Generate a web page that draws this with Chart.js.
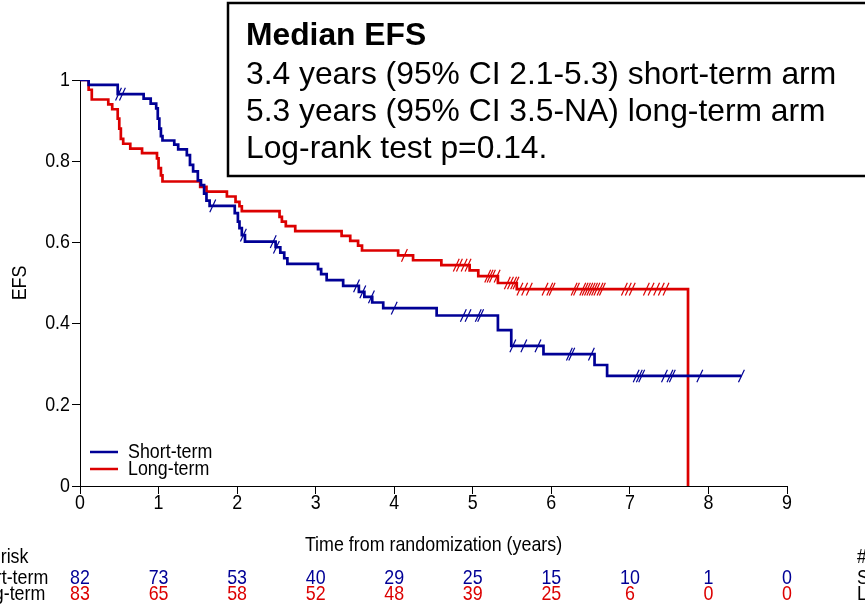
<!DOCTYPE html>
<html>
<head>
<meta charset="utf-8">
<script src="https://cdn.jsdelivr.net/npm/chart.js@4.4.1/dist/chart.umd.min.js"></script>
<style>
  html, body { margin: 0; padding: 0; background: #fff; }
  #wrap { position: relative; width: 865px; height: 606px; }
</style>
</head>
<body>
<div id="wrap"><canvas id="kmChart"></canvas></div>
<script>
// Kaplan-Meier steps: event times (years) and EFS after each event
const shortTimes = [0.11, 0.48, 0.81, 0.90, 0.97, 0.99, 1.01, 1.03, 1.05, 1.20, 1.25, 1.36, 1.40, 1.44, 1.50, 1.54, 1.58, 1.61, 1.65,
    1.97, 2.01, 2.03, 2.06, 2.10, 2.49, 2.55, 2.60, 2.64, 3.03, 3.07, 3.14, 3.35, 3.55, 3.62, 3.72, 3.86, 4.54, 5.32, 5.49, 5.90, 6.55, 6.71];
const shortSurv = [0.988, 0.965, 0.954, 0.942, 0.93, 0.905, 0.88, 0.862, 0.851, 0.841, 0.829, 0.815, 0.791, 0.775, 0.753, 0.741, 0.72, 0.703, 0.69,
    0.672, 0.651, 0.635, 0.618, 0.602, 0.588, 0.575, 0.561, 0.547, 0.534, 0.522, 0.507, 0.493, 0.478, 0.466, 0.452, 0.438, 0.42, 0.384, 0.345, 0.325, 0.298, 0.271];
const shortLastFollowUp = 8.42;
const shortCensored = [0.49, 0.54, 1.69, 2.08, 2.46, 2.50, 3.52, 3.60, 3.71, 4.00, 4.88, 4.94, 5.07, 5.10, 5.51, 5.65, 5.83,
    6.23, 6.26, 6.51, 7.08, 7.12, 7.15, 7.44, 7.51, 7.54, 7.89, 8.42];

const longTimes = [0.11, 0.15, 0.36, 0.41, 0.48, 0.50, 0.52, 0.55, 0.64, 0.79, 0.98, 1.00, 1.03, 1.05, 1.53, 1.61, 1.87, 1.98, 2.03, 2.06,
    2.54, 2.57, 2.62, 2.74, 3.33, 3.44, 3.54, 3.59, 4.05, 4.24, 4.60, 4.96, 5.07, 5.32, 5.56, 7.74];
const longSurv = [0.976, 0.952, 0.94, 0.928, 0.905, 0.88, 0.855, 0.843, 0.831, 0.82, 0.807, 0.783, 0.765, 0.75, 0.737, 0.725, 0.713, 0.70, 0.689, 0.677,
    0.663, 0.651, 0.64, 0.628, 0.616, 0.604, 0.592, 0.58, 0.568, 0.556, 0.544, 0.531, 0.517, 0.50, 0.485, 0];
const longCensored = [4.13, 4.79, 4.83, 4.89, 4.94, 5.19, 5.22, 5.25, 5.31, 5.44, 5.48, 5.52, 5.55, 5.60, 5.66, 5.72, 5.92, 5.98, 6.01,
    6.29, 6.32, 6.40, 6.43, 6.46, 6.49, 6.52, 6.55, 6.58, 6.62, 6.65, 6.93, 6.98, 7.03, 7.21, 7.27, 7.34, 7.40, 7.46];

// numbers at risk
const riskTimes = [0, 1, 2, 3, 4, 5, 6, 7, 8, 9];
const shortAtRisk = [82, 73, 53, 40, 29, 25, 15, 10, 1, 0];
const longAtRisk = [83, 65, 58, 52, 48, 39, 25, 6, 0, 0];

const boxTitle = 'Median EFS';
const boxLines = [
    '3.4 years (95% CI 2.1-5.3) short-term arm',
    '5.3 years (95% CI 3.5-NA) long-term arm',
    'Log-rank test p=0.14.'
];

const BLUE = '#000096';
const RED = '#dc0000';
const FONT = "'Liberation Sans', Arial, sans-serif";
const SMALL = '21px ' + FONT;
const NARROW = 0.85;   // the small text in the figure is a narrow face

function survAt(times, surv, t) {
    let s = 1;
    for (let i = 0; i < times.length; i++) {
        if (times[i] <= t) s = surv[i];
    }
    return s;
}

function stepPoints(times, surv, lastTime) {
    const pts = [{ x: 0, y: 1 }];
    times.forEach((t, i) => pts.push({ x: t, y: surv[i] }));
    if (lastTime !== undefined) pts.push({ x: lastTime, y: surv[surv.length - 1] });
    return pts;
}

function censorPoints(censored, times, surv) {
    return censored.map(t => ({ x: t, y: survAt(times, surv, t) }));
}

// narrow text helper
function narrowText(ctx, text, x, y, align, color, rotate) {
    ctx.save();
    ctx.translate(x, y);
    if (rotate) ctx.rotate(rotate);
    ctx.scale(NARROW, 1);
    ctx.font = SMALL;
    ctx.fillStyle = color || '#000';
    ctx.textAlign = align;
    ctx.textBaseline = 'middle';
    ctx.fillText(text, 0, 0);
    ctx.restore();
}

const overlay = {
    id: 'overlay',
    afterDraw(chart) {
        const ctx = chart.ctx;
        const xs = chart.scales.x;
        const ys = chart.scales.y;
        const area = chart.chartArea;
        ctx.save();

        // tick labels
        ys.ticks.forEach(tk => {
            narrowText(ctx, String(Math.round(tk.value * 10) / 10), 70, ys.getPixelForValue(tk.value), 'right');
        });
        xs.ticks.forEach(tk => {
            narrowText(ctx, String(tk.value), xs.getPixelForValue(tk.value), 503, 'center');
        });

        // axis titles
        narrowText(ctx, 'EFS', 20, (area.top + area.bottom) / 2, 'center', '#000', -Math.PI / 2);
        narrowText(ctx, 'Time from randomization (years)', (area.left + area.right) / 2, 545, 'center');

        // legend inside the plot
        const legendItems = [
            { label: chart.data.datasets[0].label, color: BLUE, y: 452 },
            { label: chart.data.datasets[1].label, color: RED, y: 469 }
        ];
        legendItems.forEach(item => {
            ctx.strokeStyle = item.color;
            ctx.lineWidth = 2.5;
            ctx.beginPath();
            ctx.moveTo(90, item.y);
            ctx.lineTo(118, item.y);
            ctx.stroke();
            narrowText(ctx, item.label, 128, item.y, 'left');
        });

        // at-risk table (cut off at both edges in the figure)
        [-36, 857].forEach(x0 => {
            narrowText(ctx, '# At risk', x0, 557, 'left');
            narrowText(ctx, 'Short-term', x0, 578, 'left');
            narrowText(ctx, 'Long-term', x0, 594, 'left');
        });
        riskTimes.forEach((t, i) => {
            const px = xs.getPixelForValue(t);
            narrowText(ctx, String(shortAtRisk[i]), px, 578, 'center', BLUE);
            narrowText(ctx, String(longAtRisk[i]), px, 594, 'center', RED);
        });

        // annotation box
        ctx.fillStyle = '#fff';
        ctx.fillRect(228, 3, 700, 173);
        ctx.strokeStyle = '#000';
        ctx.lineWidth = 2.5;
        ctx.strokeRect(228, 3, 700, 173);
        ctx.fillStyle = '#000';
        ctx.textAlign = 'left';
        ctx.textBaseline = 'alphabetic';
        ctx.font = 'bold 31.8px ' + FONT;
        ctx.fillText(boxTitle, 246, 45);
        ctx.font = '31.8px ' + FONT;
        boxLines.forEach((line, i) => ctx.fillText(line, 246, 84 + i * 37));

        ctx.restore();
    }
};

const ctx = document.getElementById('kmChart').getContext('2d');
const chart = new Chart(ctx, {
    type: 'scatter',
    data: {
        datasets: [
            {
                label: 'Short-term',
                data: stepPoints(shortTimes, shortSurv, shortLastFollowUp),
                showLine: true,
                stepped: 'before',
                borderColor: BLUE,
                borderWidth: 2.7,
                pointRadius: 0,
                fill: false,
            },
            {
                label: 'Long-term',
                data: stepPoints(longTimes, longSurv),
                showLine: true,
                stepped: 'before',
                borderColor: RED,
                borderWidth: 2.7,
                pointRadius: 0,
                fill: false,
            },
            {
                label: 'Short-term censored',
                data: censorPoints(shortCensored, shortTimes, shortSurv),
                showLine: false,
                pointStyle: 'line',
                rotation: -65,
                pointRadius: 7,
                borderColor: BLUE,
                pointBorderWidth: 1.2,
            },
            {
                label: 'Long-term censored',
                data: censorPoints(longCensored, longTimes, longSurv),
                showLine: false,
                pointStyle: 'line',
                rotation: -65,
                pointRadius: 7,
                borderColor: RED,
                pointBorderWidth: 1.2,
            }
        ]
    },
    options: {
        responsive: true,
        maintainAspectRatio: false,
        animation: false,
        events: [],
        layout: {
            padding: { left: 0, top: 80, right: 78, bottom: 0 }
        },
        plugins: {
            legend: { display: false },
            tooltip: { enabled: false }
        },
        scales: {
            x: {
                type: 'linear',
                min: 0,
                max: 9,
                afterFit: scale => { scale.height = 120; },
                ticks: { stepSize: 1, color: 'rgba(0,0,0,0)', font: { family: FONT, size: 18 } },
                grid: { display: true, drawOnChartArea: false, drawTicks: true, tickLength: 8, color: '#000' },
                border: { display: true, color: '#000', width: 1 }
            },
            y: {
                min: 0,
                max: 1,
                afterFit: scale => { scale.width = 80; },
                ticks: { stepSize: 0.2, color: 'rgba(0,0,0,0)', font: { family: FONT, size: 18 } },
                grid: { display: true, drawOnChartArea: false, drawTicks: true, tickLength: 8, color: '#000' },
                border: { display: true, color: '#000', width: 1 }
            }
        }
    },
    plugins: [overlay]
});
</script>
</body>
</html>
